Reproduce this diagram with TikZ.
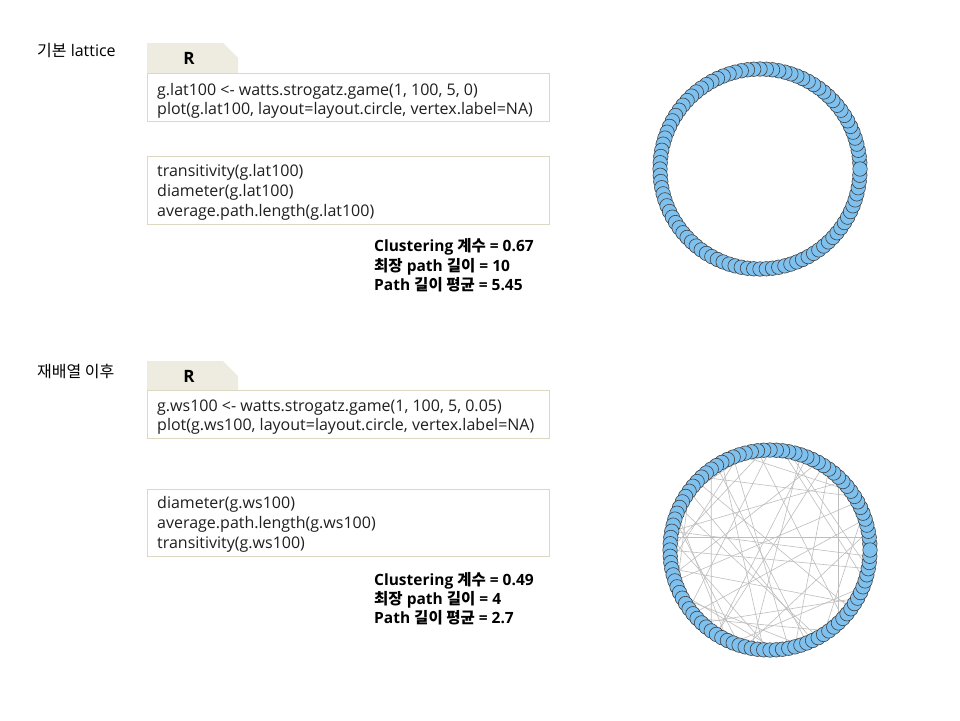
\documentclass[tikz,border=0pt]{standalone}
\usepackage{fontspec}
\setmainfont{Open Sans}
\newfontfamily\kr{Noto Sans CJK KR}
\definecolor{tabc}{RGB}{238,236,225}
\definecolor{boxc}{RGB}{221,216,194}
\definecolor{vblue}{RGB}{126,192,238}
\definecolor{chordc}{RGB}{190,190,190}
\begin{document}
\begin{tikzpicture}[x=1pt,y=-1pt,
  tabshape/.style={fill=tabc, draw=none},
  codebox/.style={draw=boxc, line width=0.9pt, fill=white},
  codetext/.style={anchor=base west, inner sep=0pt, font=\fontsize{16}{19}\selectfont, text=black!88},
  stattext/.style={anchor=base west, inner sep=0pt, font=\bfseries\fontsize{15.5}{19}\selectfont},
  labeltext/.style={anchor=base west, inner sep=0pt, font=\fontsize{16}{19}\selectfont},
  tabtext/.style={inner sep=0pt, font=\bfseries\fontsize{17}{19}\selectfont},
  vtx/.style={circle, draw=black!75, fill=vblue, line width=0.6pt, minimum size=14.5pt, inner sep=0pt},
  chord/.style={draw=chordc, line width=0.6pt}]
\useasboundingbox[fill=white] (0,0) rectangle (960,720);

% ---------- section 1 ----------
\node[labeltext] (lab1) at (37,56) {{\kr 기본} lattice};
\path[tabshape] (147,43) -- (223,43) -- (238,58) -- (238,73) -- (147,73) -- cycle;
\node[tabtext] (tab1) at (189,58) {R};
\draw[codebox] (147,73) rectangle (549,121);
\node[codetext] (c1a) at (157,95) {g.lat100 <- watts.strogatz.game(1, 100, 5, 0)};
\node[codetext] (c1b) at (157,114) {plot(g.lat100, layout=layout.circle, vertex.label=NA)};
\draw[codebox] (147,156) rectangle (549,224);
\node[codetext] (c2a) at (157,176) {transitivity(g.lat100)};
\node[codetext] (c2b) at (157,196) {diameter(g.lat100)};
\node[codetext] (c2c) at (157,216) {average.path.length(g.lat100)};
\node[stattext] (s1a) at (374,251) {Clustering {\kr 계수} = 0.67};
\node[stattext] (s1b) at (374,271) {{\kr 최장} path {\kr 길이} = 10};
\node[stattext] (s1c) at (374,290) {Path {\kr 길이 평균} = 5.45};

% ---------- section 2 ----------
\node[labeltext] (lab2) at (37,377) {\kr 재배열 이후};
\path[tabshape] (147,361) -- (223,361) -- (238,376) -- (238,390) -- (147,390) -- cycle;
\node[tabtext] (tab2) at (189,376) {R};
\draw[codebox] (147,390) rectangle (549,438);
\node[codetext] (c3a) at (157,411) {g.ws100 <- watts.strogatz.game(1, 100, 5, 0.05)};
\node[codetext] (c3b) at (157,430) {plot(g.ws100, layout=layout.circle, vertex.label=NA)};
\draw[codebox] (147,489) rectangle (549,556);
\node[codetext] (c4a) at (157,508) {diameter(g.ws100)};
\node[codetext] (c4b) at (157,528) {average.path.length(g.ws100)};
\node[codetext] (c4c) at (157,548) {transitivity(g.ws100)};
\node[stattext] (s2a) at (374,585) {Clustering {\kr 계수} = 0.49};
\node[stattext] (s2b) at (374,604) {{\kr 최장} path {\kr 길이} = 4};
\node[stattext] (s2c) at (374,623) {Path {\kr 길이 평균} = 2.7};

% ---------- graph 1 (lattice) ----------
\foreach \k in {0,...,99} {
  \coordinate (p\k) at ({760+100*cos(3.6*\k)},{169-100*sin(3.6*\k)});
}
\foreach \k in {1,...,99} { \node[vtx] (v\k) at (p\k) {}; }
\node[vtx] (v0) at (p0) {};

% ---------- graph 2 (rewired) ----------
\foreach \k in {0,...,99} {
  \coordinate (q\k) at ({770+100*cos(3.6*\k)},{550-100*sin(3.6*\k)});
}
\foreach \a/\b in {2/48,5/61,9/37,13/87,17/54,20/72,23/95,26/50,28/41,31/78,
  35/65,38/90,40/56,43/83,45/70,47/12,50/97,52/30,55/8,58/80,60/25,63/92,
  66/19,68/44,71/3,74/33,76/57,79/15,82/40,85/62,88/27,91/53,94/69,97/22,
  99/47,6/84,16/66,34/81,48/75,10/30} {
  \draw[chord] (q\a) -- (q\b);
}
\foreach \k in {1,...,99} { \node[vtx] (w\k) at (q\k) {}; }
\node[vtx] (w0) at (q0) {};
\end{tikzpicture}
\end{document}
